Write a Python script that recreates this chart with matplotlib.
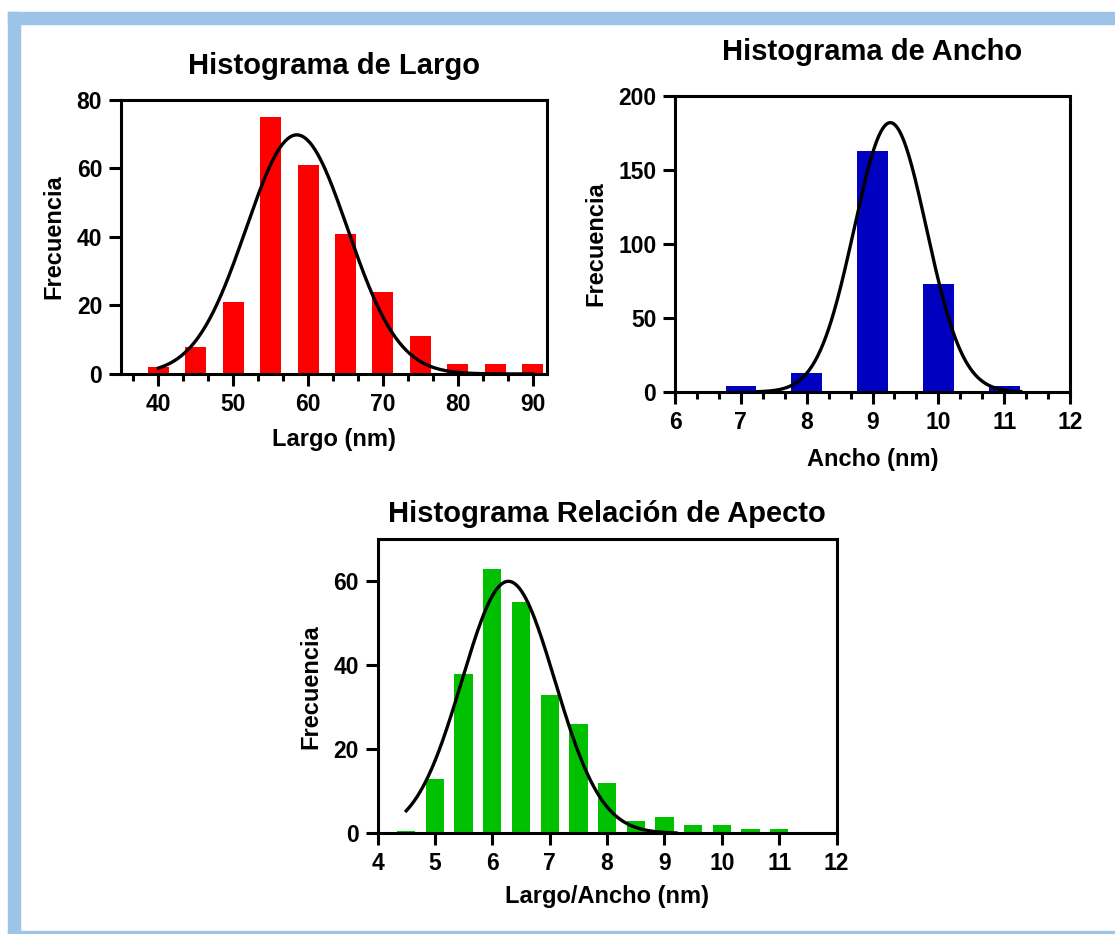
import numpy as np
import matplotlib
matplotlib.use('Agg')
import matplotlib.pyplot as plt
from matplotlib.patches import Rectangle
from matplotlib.ticker import MultipleLocator

plt.rcParams['font.family'] = ['Liberation Sans', 'DejaVu Sans']
plt.rcParams['font.weight'] = 'bold'

# Largo histogram
largo_bins = [40, 45, 50, 55, 60, 65, 70, 75, 80, 85, 90]
largo_freq = [2, 8, 21, 75, 61, 41, 24, 11, 3, 3, 3]
largo_fit = (69.8, 58.5, 6.8)   # amplitude, mean, sd

# Ancho histogram
ancho_bins = [7, 8, 9, 10, 11]
ancho_freq = [4, 13, 163, 73, 4]
ancho_fit = (182, 9.27, 0.55)

# Aspect ratio histogram
ratio_bins = [4.5, 5, 5.5, 6, 6.5, 7, 7.5, 8, 8.5, 9, 9.5, 10, 10.5, 11]
ratio_freq = [0.5, 13, 38, 63, 55, 33, 26, 12, 3, 4, 2, 2, 1, 1]
ratio_fit = (60, 6.28, 0.81)


def gauss(x, p):
    a, m, s = p
    return a * np.exp(-(x - m) ** 2 / (2 * s ** 2))


def style(ax, title, xlabel, pad, xpad):
    ax.set_title(title, fontsize=21, fontweight='bold', pad=pad)
    ax.set_xlabel(xlabel, fontsize=17, fontweight='bold', labelpad=xpad)
    ax.set_ylabel('Frecuencia', fontsize=17, fontweight='bold', labelpad=8)
    for sp in ax.spines.values():
        sp.set_linewidth(2.2)
    ax.tick_params(which='major', length=8.5, width=2.2, labelsize=16.5, pad=5)
    ax.tick_params(which='minor', length=5, width=2.2)
    for lab in ax.get_xticklabels() + ax.get_yticklabels():
        lab.set_fontweight('bold')


fig = plt.figure(figsize=(11.15, 9.34), dpi=100)

# light blue frame
blue = '#9DC3E6'
fig.patches.append(Rectangle((8 / 1115, 1 - 24 / 934), 1, 12 / 934, transform=fig.transFigure,
                             color=blue, zorder=0))
fig.patches.append(Rectangle((8 / 1115, 0), 12 / 1115, 1 - 12 / 934, transform=fig.transFigure,
                             color=blue, zorder=0))
fig.patches.append(Rectangle((8 / 1115, 1 / 934), 1, 2 / 934, transform=fig.transFigure,
                             color=blue, zorder=0))

# Panel 1
ax1 = fig.add_axes([0.1085, 0.5996, 0.3825, 0.2934])
ax1.bar(largo_bins, largo_freq, width=2.8, color='#FF0000', zorder=2)
x = np.linspace(40, 90, 300)
ax1.plot(x, gauss(x, largo_fit), color='black', lw=2.4, zorder=3)
ax1.set_xlim(35, 92)
ax1.set_ylim(0, 80)
ax1.set_xticks([40, 50, 60, 70, 80, 90])
ax1.set_yticks([0, 20, 40, 60, 80])
ax1.xaxis.set_minor_locator(MultipleLocator(10 / 3))
style(ax1, 'Histograma de Largo', 'Largo (nm)', 19, 8.5)

# Panel 2
ax2 = fig.add_axes([0.6054, 0.5803, 0.3543, 0.3169])
ax2.bar(ancho_bins, ancho_freq, width=0.465, color='#0000C0', zorder=2)
x = np.linspace(7.25, 11.25, 300)
ax2.plot(x, gauss(x, ancho_fit), color='black', lw=2.4, zorder=3)
ax2.set_xlim(6, 12)
ax2.set_ylim(0, 200)
ax2.set_xticks(range(6, 13))
ax2.set_yticks([0, 50, 100, 150, 200])
ax2.xaxis.set_minor_locator(MultipleLocator(1 / 3))
style(ax2, 'Histograma de Ancho', 'Ancho (nm)', 26, 10)

# Panel 3
ax3 = fig.add_axes([0.3386, 0.1078, 0.4117, 0.3148])
ax3.bar(ratio_bins, ratio_freq, width=0.32, color='#00C000', zorder=2)
x = np.linspace(4.5, 9.2, 300)
ax3.plot(x, gauss(x, ratio_fit), color='black', lw=2.4, zorder=3)
ax3.set_xlim(4, 12)
ax3.set_ylim(0, 70)
ax3.set_xticks(range(4, 13))
ax3.set_yticks([0, 20, 40, 60])
style(ax3, 'Histograma Relación de Apecto', 'Largo/Ancho (nm)', 12.5, 7)

fig.savefig('out.png', dpi=100)
